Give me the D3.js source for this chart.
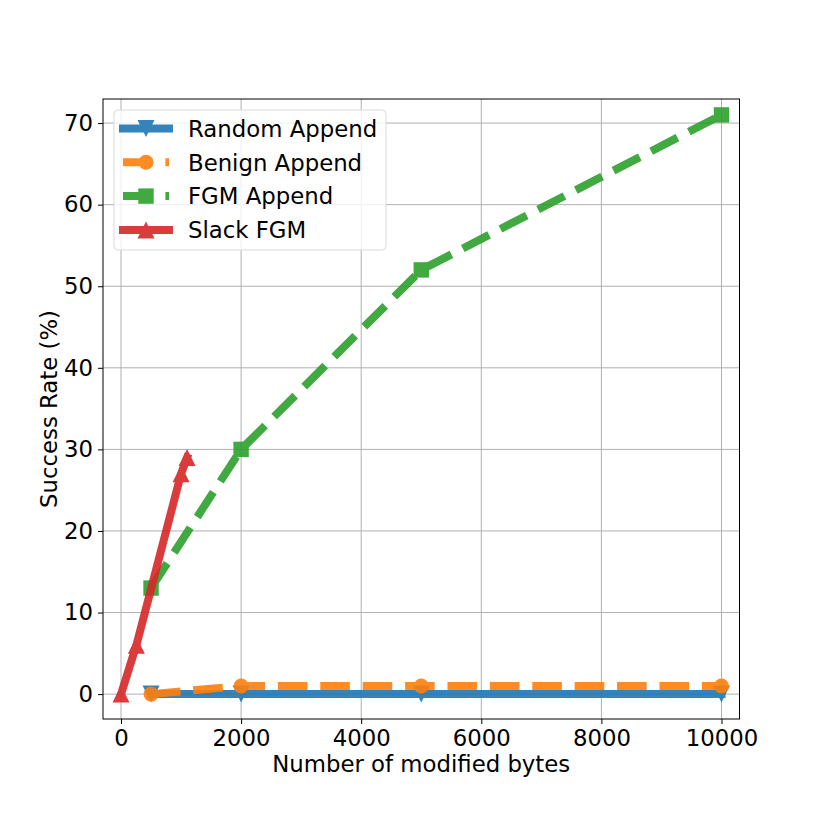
<!DOCTYPE html>
<html>
<head>
<meta charset="utf-8">
<script src="https://cdnjs.cloudflare.com/ajax/libs/d3/7.8.5/d3.min.js"></script>
<style>
  body { margin: 0; background: #fff; }
  text { font-family: "DejaVu Sans", sans-serif; fill: #000; }
</style>
</head>
<body>
<div id="chart"></div>
<script>
'use strict';
// data
var seriesNames = ['Random Append', 'Benign Append', 'FGM Append', 'Slack FGM'];
var appendBytes = [500, 2000, 5000, 10000];
var randomAppend = [0, 0, 0, 0];
var benignAppend = [0, 1, 1, 1];
var fgmAppend = [13, 30, 52, 71];
var slackBytes = [0, 256, 1000, 1100];
var slackFgm = [0, 6, 27, 29];
var xTicks = [0, 2000, 4000, 6000, 8000, 10000];
var yTicks = [0, 10, 20, 30, 40, 50, 60, 70];

var W = 822, H = 822;
var fontSize = '22.8px';
var margin = {top: 99, right: 82.5, bottom: 103, left: 103};
var width = W - margin.left - margin.right,
    height = H - margin.top - margin.bottom;

var svg = d3.select('#chart').append('svg')
  .attr('width', W)
  .attr('height', H);

var g = svg.append('g')
  .attr('transform', 'translate(' + margin.left + ',' + margin.top + ')');

var x = d3.scaleLinear().domain([-300, 10300]).range([0, width]);
var y = d3.scaleLinear().domain([-3.05, 72.95]).range([height, 0]);

// grid
g.selectAll('.xgrid').data(xTicks).enter().append('line')
  .attr('x1', function(d) { return x(d); })
  .attr('x2', function(d) { return x(d); })
  .attr('y1', 0).attr('y2', height)
  .style('stroke', '#b0b0b0').style('stroke-width', 1);
g.selectAll('.ygrid').data(yTicks).enter().append('line')
  .attr('y1', function(d) { return y(d); })
  .attr('y2', function(d) { return y(d); })
  .attr('x1', 0).attr('x2', width)
  .style('stroke', '#b0b0b0').style('stroke-width', 1);

var series = [
  {name: seriesNames[0], xs: appendBytes, ys: randomAppend, color: '#1f77b4', dash: null, marker: 'down'},
  {name: seriesNames[1], xs: appendBytes, ys: benignAppend, color: '#ff7f0e', dash: '29.6,12.8', marker: 'circle'},
  {name: seriesNames[2], xs: appendBytes, ys: fgmAppend, color: '#2ca02c', dash: '29.6,12.8', marker: 'square'},
  {name: seriesNames[3], xs: slackBytes, ys: slackFgm, color: '#d62728', dash: null, marker: 'up'}
];

function markerPath(type) {
  if (type === 'circle') return 'M7.5,0A7.5,7.5 0 1,1 -7.5,0A7.5,7.5 0 1,1 7.5,0Z';
  if (type === 'square') return 'M-7.7,-7.7L7.7,-7.7L7.7,7.7L-7.7,7.7Z';
  if (type === 'up') return 'M0,-8.5L-8.5,8.5L8.5,8.5Z';
  return 'M0,8.5L-8.5,-8.5L8.5,-8.5Z';
}

var line = d3.line()
  .x(function(d) { return x(d[0]); })
  .y(function(d) { return y(d[1]); });

var plot = g.append('g');
series.forEach(function(s) {
  var pts = s.xs.map(function(v, i) { return [v, s.ys[i]]; });
  var sg = plot.append('g').style('opacity', 0.9);
  sg.append('path')
    .datum(pts)
    .attr('d', line)
    .style('fill', 'none')
    .style('stroke', s.color)
    .style('stroke-width', 8)
    .style('stroke-linecap', s.dash ? 'butt' : 'square')
    .style('stroke-linejoin', 'round')
    .style('stroke-dasharray', s.dash);
  sg.selectAll('.m').data(pts).enter().append('path')
    .attr('transform', function(d) { return 'translate(' + x(d[0]) + ',' + y(d[1]) + ')'; })
    .attr('d', markerPath(s.marker))
    .style('fill', s.color);
});

// frame
g.append('rect')
  .attr('width', width).attr('height', height)
  .style('fill', 'none').style('stroke', '#000').style('stroke-width', 1);

// axes
var xAxis = g.append('g')
  .attr('transform', 'translate(0,' + height + ')')
  .call(d3.axisBottom(x).tickValues(xTicks).tickFormat(d3.format('d')).tickSize(5).tickPadding(6));
var yAxis = g.append('g')
  .call(d3.axisLeft(y).tickValues(yTicks).tickFormat(d3.format('d')).tickSize(5).tickPadding(5));
[xAxis, yAxis].forEach(function(a) {
  a.select('.domain').remove();
  a.selectAll('text').style('font-size', fontSize).style('font-family', 'DejaVu Sans');
  a.selectAll('line').style('stroke', '#000');
});

// axis labels
svg.append('text')
  .attr('x', margin.left + width / 2)
  .attr('y', 772)
  .attr('text-anchor', 'middle')
  .style('font-size', fontSize)
  .text('Number of modified bytes');
svg.append('text')
  .attr('transform', 'translate(57,' + (margin.top + height / 2) + ') rotate(-90)')
  .attr('text-anchor', 'middle')
  .style('font-size', fontSize)
  .text('Success Rate (%)');

// legend
var legend = svg.append('g').attr('transform', 'translate(114,110)');
legend.append('rect')
  .attr('width', 272).attr('height', 140)
  .attr('rx', 4)
  .style('fill', '#fff').style('fill-opacity', 0.8)
  .style('stroke', '#d9d9d9').style('stroke-width', 1);
series.forEach(function(s, i) {
  var row = legend.append('g')
    .attr('transform', 'translate(0,' + (18.5 + i * 33.8) + ')')
    .style('opacity', 0.9);
  row.append('line')
    .attr('x1', 9).attr('x2', 55)
    .style('stroke', s.color)
    .style('stroke-width', 8)
    .style('stroke-linecap', s.dash ? 'butt' : 'square')
    .style('stroke-dasharray', s.dash);
  row.append('path')
    .attr('transform', 'translate(32,0)')
    .attr('d', markerPath(s.marker))
    .style('fill', s.color);
  legend.append('text')
    .attr('x', 74)
    .attr('y', 18.5 + i * 33.8)
    .attr('dy', '0.36em')
    .style('font-size', fontSize)
    .text(s.name);
});
</script>
</body>
</html>
